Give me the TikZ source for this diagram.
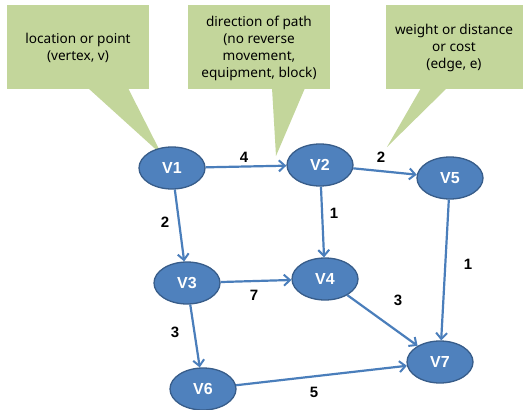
\documentclass[tikz,border=0pt]{standalone}
\usepackage{fontspec}
\setmainfont{Noto Sans}
\newfontfamily\lblfont{Liberation Sans}
\usetikzlibrary{shapes.geometric,arrows.meta}
\definecolor{callout}{HTML}{C3D69B}
\definecolor{nodefill}{HTML}{4F81BD}
\definecolor{nodeedge}{HTML}{385D8A}
\definecolor{arrowc}{HTML}{4A7EBB}
\tikzset{
  vert/.style={ellipse, fill=nodefill, draw=nodeedge, line width=1.3pt, minimum width=66pt, minimum height=42pt, inner sep=0pt, text=white, font=\lblfont\bfseries\fontsize{16}{18}\selectfont},
  link/.style={draw=arrowc, line width=2.2pt, -{Straight Barb[length=6pt,width=11pt,line width=2pt]}},
  wlabel/.style={font=\lblfont\bfseries\fontsize{15}{17}\selectfont, text=black, inner sep=0pt},
  ctext/.style={align=center, font=\fontsize{13.6}{17}\selectfont, inner sep=0pt},
}
\begin{document}
\begin{tikzpicture}[x=1pt,y=-1pt]
\useasboundingbox (0,0) rectangle (528,410);
\fill[white] (0,0) rectangle (528,410);
% callouts
\fill[callout] (7,5) rectangle (149,89);
\fill[callout] (88,88) -- (162,155) -- (128,88) -- cycle;
\fill[callout] (188,5) rectangle (330,89);
\fill[callout] (272,88) -- (276,156) -- (305,88) -- cycle;
\fill[callout] (386,5) rectangle (523,89);
\fill[callout] (421,88) -- (387,147) -- (447,88) -- cycle;
\node[ctext] (c1) at (78,48) {location or point\\(vertex, v)};
\node[ctext] (c2) at (259,48) {direction of path\\(no reverse\\movement,\\equipment, block)};
\node[ctext] (c3) at (454,48) {weight or distance\\or cost\\(edge, e)};
% vertices
\node[vert] (v1) at (172,168) {V1};
\node[vert] (v2) at (320,165) {V2};
\node[vert] (v5) at (450,178) {V5};
\node[vert] (v3) at (187,283) {V3};
\node[vert] (v4) at (325,279) {V4};
\node[vert] (v7) at (440,362) {V7};
\node[vert] (v6) at (203,389) {V6};
% edges
\draw[link] (v1) -- (v2);
\draw[link] (v2) -- (v5);
\draw[link] (v1) -- (v3);
\draw[link] (v2) -- (v4);
\draw[link] (v3) -- (v4);
\draw[link] (v4) -- (v7);
\draw[link] (v5) -- (v7);
\draw[link] (v3) -- (v6);
\draw[link] (v6) -- (v7);
% weights
\node[wlabel] (w12) at (244,157) {4};
\node[wlabel] (w25) at (381,157) {2};
\node[wlabel] (w13) at (165,222) {2};
\node[wlabel] (w24) at (334,213) {1};
\node[wlabel] (w57) at (468,264) {1};
\node[wlabel] (w34) at (254,295) {7};
\node[wlabel] (w47) at (398,300) {3};
\node[wlabel] (w36) at (175,332) {3};
\node[wlabel] (w67) at (314,392) {5};
\end{tikzpicture}
\end{document}
